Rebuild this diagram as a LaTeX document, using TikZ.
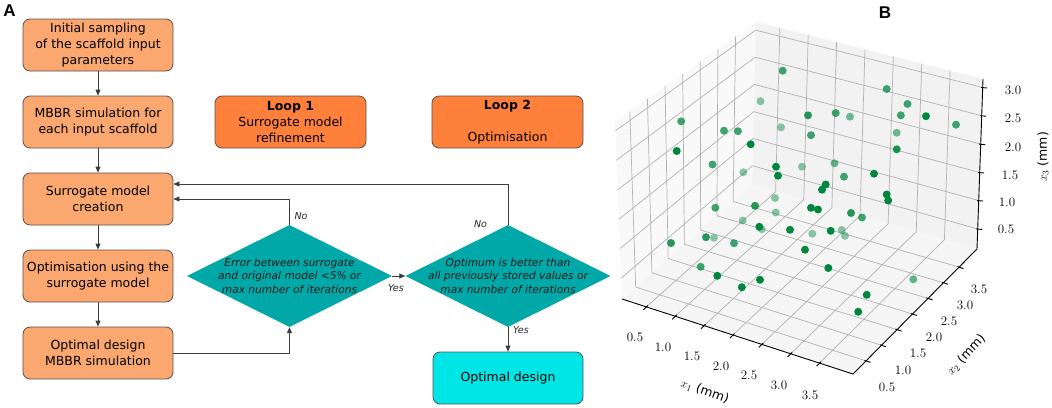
\documentclass[tikz,border=0pt]{standalone}
\usepackage{fontspec}
\newfontfamily\flowfont{DejaVu Sans}
\newfontfamily\panelfont{Liberation Sans}
\usetikzlibrary{shapes.geometric,arrows.meta,calc,positioning}

\definecolor{procfill}{RGB}{250,168,112}
\definecolor{loopfill}{RGB}{255,128,58}
\definecolor{decfill}{RGB}{0,168,168}
\definecolor{endfill}{RGB}{0,230,230}
\definecolor{boxline}{RGB}{90,80,75}
\definecolor{arrowline}{RGB}{60,60,60}
\definecolor{ptgreen}{RGB}{0,135,62}

\tikzset{
  procbox/.style={draw=boxline, fill=procfill, line width=0.8pt, rounded corners=7pt,
    minimum width=150pt, minimum height=52pt, inner xsep=2pt, align=center,
    font=\flowfont\fontsize{12.5}{16}\selectfont},
  loopbox/.style={procbox, fill=loopfill, minimum width=151pt},
  endbox/.style={procbox, fill=endfill},
  decision/.style={diamond, aspect=2, fill=decfill, inner sep=0pt,
    minimum width=205pt, minimum height=102pt},
  dectext/.style={align=center, text=black!90, inner sep=0pt,
    font=\flowfont\itshape\fontsize{10.6}{13.3}\selectfont},
  flow/.style={draw=arrowline, line width=0.8pt, -{Triangle[length=6pt,width=5pt]}},
  lbl/.style={text=black!85, inner sep=0pt, font=\flowfont\itshape\fontsize{9.5}{11}\selectfont},
  gridline/.style={draw=black!30, line width=0.7pt},
  axisline/.style={draw=black, line width=0.9pt},
  ticklbl/.style={inner sep=0pt, font=\fontsize{13}{15}\selectfont},
  axlbl/.style={inner sep=0pt, font=\fontsize{12.5}{15}\selectfont},
  panel/.style={inner sep=0pt, font=\panelfont\bfseries\fontsize{17}{20}\selectfont},
}

\begin{document}
\begin{tikzpicture}[x=1pt,y=-1pt]
    \useasboundingbox (0,0) rectangle (1052,407);

    % panel A: flowchart
    \node[panel] (lblA) at (9.5,11) {A};
    \node[procbox] (init)   at (98,45)  {Initial sampling\\of the scaffold input\\parameters};
    \node[procbox] (mbbr)   at (98,122) {MBBR simulation for\\each input scaffold};
    \node[procbox] (surr)   at (98,199) {Surrogate model\\creation};
    \node[procbox] (optim)  at (98,276) {Optimisation using the\\surrogate model};
    \node[procbox] (design) at (98,353) {Optimal design\\MBBR simulation};
    \node[loopbox] (loopa)  at (290.5,122) {\textbf{Loop 1}\\Surrogate model\\refinement};
    \node[loopbox] (loopb)  at (507.5,122) {\textbf{Loop 2}\\[16pt]Optimisation};
    \node[decision] (err)  at (289.5,276) {};
    \node[dectext] (errtxt) at (err.center) {Error between surrogate\\and original model <5\% or\\max number of iterations};
    \node[decision] (best) at (508,276) {};
    \node[dectext] (besttxt) at (best.center) {Optimum is better than\\all previously stored values or\\max number of iterations};
    \node[endbox] (final)  at (508,378) {Optimal design};

    % connectors
    \draw[flow] (init) -- (mbbr);
    \draw[flow] (mbbr) -- (surr);
    \draw[flow] (surr) -- (optim);
    \draw[flow] (optim) -- (design);
    \draw[flow] (design.east) -| (err.south);
    \draw[flow] (err.north) |- (surr.east);
    \coordinate (surrin) at ([yshift=15pt]surr.east);
    \draw[flow] (best.north) |- (surrin);
    \draw[flow] (err.east) -- (best.west);
    \draw[flow] (best.south) -- (final.north);
    \node[lbl] (no1)  at (301,216)   {No};
    \node[lbl] (no2)  at (480.5,224) {No};
    \node[lbl] (yes1) at (396,288)   {Yes};
    \node[lbl] (yes2) at (521,330)   {Yes};

    % panel B: 3D scatter
    \node[panel] (lblB) at (885,13) {B};
    \coordinate (A)  at (622,299);
    \coordinate (B)  at (853,374);
    \coordinate (C)  at (977,249);
    \coordinate (D)  at (752,185);
    \coordinate (Ap) at (615,122);
    \coordinate (Dp) at (756,22);
    \coordinate (Cp) at (983,79);
    % panes
    \fill[black!2.5] (A) -- (D) -- (Dp) -- (Ap) -- cycle;
    \fill[black!5]   (D) -- (C) -- (Cp) -- (Dp) -- cycle;
    \fill[black!4]   (A) -- (B) -- (C) -- (D) -- cycle;
    % grid
    \foreach \t in {0.105,0.23,0.355,0.48,0.605,0.73,0.855} {
        \draw[gridline] ($(A)!\t!(B)$) -- ($(D)!\t!(C)$) -- ($(Dp)!\t!(Cp)$);
        \draw[gridline] ($(B)!\t!(C)$) -- ($(A)!\t!(D)$) -- ($(Ap)!\t!(Dp)$);
    }
    \foreach \u in {0.118,0.285,0.45,0.617,0.784,0.95} {
        \draw[gridline] ($(A)!\u!(Ap)$) -- ($(D)!\u!(Dp)$) -- ($(C)!\u!(Cp)$);
    }
    % axes and ticks
    \draw[axisline] (A) -- (B) -- (C) -- (Cp);
    \foreach \t in {0.105,0.23,0.355,0.48,0.605,0.73,0.855} {
        \draw[axisline] ($(A)!\t!(B)+(1.5,-1.5)$) -- ($(A)!\t!(B)+(-3,3)$);
        \draw[axisline] ($(B)!\t!(C)+(-1.5,-0.5)$) -- ($(B)!\t!(C)+(4.5,1.5)$);
    }
    \foreach \u in {0.118,0.285,0.45,0.617,0.784,0.95} {
        \draw[axisline] ($(C)!\u!(Cp)+(-1.5,0)$) -- ($(C)!\u!(Cp)+(4.5,0.5)$);
    }
    % tick labels
    \foreach \v/\lx/\ly [count=\i] in {0.5/635/337, 1.0/663/347, 1.5/692/356, 2.0/721/366,
        2.5/749/375, 3.0/779/385, 3.5/810/395}
        \node[ticklbl] (ta\i) at (\lx,\ly) {\v};
    \foreach \v/\lx/\ly [count=\i] in {0.5/887/387, 1.0/903/370, 1.5/918/353, 2.0/934/337,
        2.5/949/321, 3.0/965/305, 3.5/979/289}
        \node[ticklbl] (tb\i) at (\lx,\ly) {\v};
    \foreach \v/\lx/\ly [count=\i] in {0.5/1006/229, 1.0/1007/202, 1.5/1010/175,
        2.0/1013/147, 2.5/1013/118, 3.0/1013/90}
        \node[ticklbl] (tc\i) at (\lx,\ly) {\v};
    % axis labels
    \node[axlbl, rotate=-20] (xa) at (705,391)  {$x_1$ {\flowfont(mm)}};
    \node[axlbl, rotate=47]  (xb) at (966,355)  {$x_2$ {\flowfont(mm)}};
    \node[axlbl, rotate=90]  (xc) at (1043,157) {$x_3$ {\flowfont(mm)}};
    % samples
    \foreach \px/\py/\op in {
        782.7/70.7/0.75, 886.7/89/0.75, 907.5/104/0.75, 900.8/115.3/0.75, 926/116.2/1,
        956/124.7/0.75, 760.5/101.2/0.45, 808/115.3/0.85, 835.7/113/0.75, 850/116.7/0.55,
        724/130.7/0.75, 738/131.2/0.75, 781/127.3/0.45, 811/135.2/0.75, 896.7/132.7/0.55,
        750.7/144.3/1, 896.7/149.3/0.9, 712.5/164.5/0.75, 743.3/172.3/0.45, 776/166.7/1,
        778/175.7/1, 802/166.7/0.45, 834.5/163.3/0.6, 844/176.7/0.75, 874/173.7/1,
        825.7/184.5/1, 822/189.7/1, 886.7/194.5/1, 888.2/200.5/1, 715.3/207.7/0.75,
        755/205.8/0.85, 775/198/0.45, 811/207.8/1, 818/209.5/1, 775.7/212.5/0.45,
        851/213/0.85, 862/217.5/0.75, 681.2/121.3/0.75, 676.7/151/1, 742.7/220.5/0.45,
        759.3/226.8/1, 761.7/229.2/0.45, 790/229.8/1, 812.3/233.7/0.45, 830.7/230.8/1,
        841.7/230/0.45, 845/235.8/0.45, 671/243/0.85, 706/237.2/0.85, 714/237.8/0.45,
        734/243.2/0.75, 805/249.7/1, 700.7/266.8/0.75, 717.3/275.8/1, 741.8/287.2/1,
        760/279.8/1, 828.3/268/1, 913.3/279.3/0.6, 866.7/294.8/1, 858.2/311.8/1} {
        \fill[ptgreen, fill opacity=\op] (\px,\py) circle[radius=4pt];
    }
\end{tikzpicture}
\end{document}
